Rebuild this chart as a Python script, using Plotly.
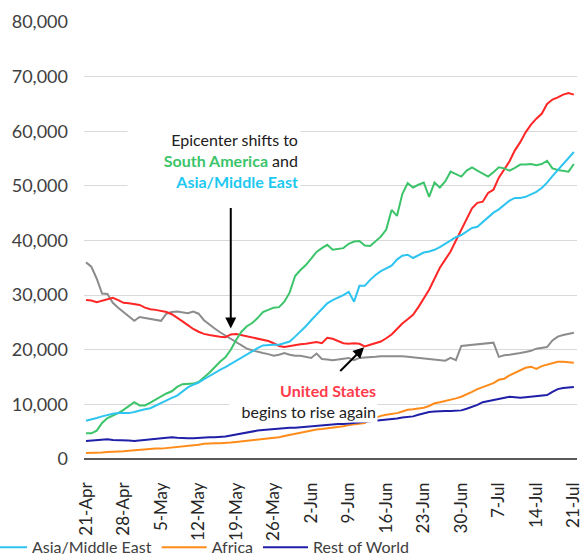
import pandas as pd
import plotly.graph_objects as go

# Daily values, 21-Apr to 21-Jul
dates = pd.date_range("2020-04-21", "2020-07-21", freq="D")

europe = [36000, 35200, 33000, 30300, 30200, 28600, 27700, 26900, 26100, 25300,
          26000, 25800, 25600, 25400, 25300, 26600, 26900, 27000, 26800, 26700,
          27000, 26600, 25400, 24600, 23900, 23200, 22600, 21900, 21300, 20800,
          20200, 19900, 19600, 19400, 19200, 18900, 19100, 19400, 19100, 18900,
          18900, 18700, 18500, 19300, 18300, 18200, 18100, 18200, 18300, 18500,
          18100, 18500, 18600, 18600, 18700, 18800, 18800, 18900, 18900, 18800,
          18700, 18600, 18500, 18500, 18400, 18300, 18200, 18000, 18500, 18100,
          20700, 20800, 20900, 21000, 21200, 21300, 21300, 18700, 19000, 19100,
          19200, 19400, 19600, 19800, 20200, 20300, 20500, 21700, 22400, 22700,
          22900, 23100]

united_states = [29100, 29000, 28700, 29000, 29300, 29500, 29100, 28600, 28500, 28300,
                 28200, 27700, 27400, 27300, 27100, 26900, 26500, 25900, 25200, 24500,
                 23800, 23300, 22900, 22700, 22500, 22400, 22300, 22800, 22900, 22700,
                 22400, 22200, 22100, 21900, 21600, 21200, 20700, 20500, 20700, 20900,
                 21000, 21100, 21300, 21400, 21200, 22200, 22000, 21600, 21200, 21100,
                 21200, 21100, 20600, 20900, 21200, 21500, 22100, 22800, 23800, 24800,
                 25600, 26400, 27800, 29500, 31000, 33000, 35000, 36500, 38000, 40000,
                 42000, 44200, 45900, 46900, 47100, 48700, 49300, 51500, 52900, 54500,
                 56500, 58000, 59800, 61200, 62300, 63200, 65000, 65800, 66200, 66700,
                 67000, 66700]

south_america = [4700, 4700, 5200, 6600, 7500, 7900, 8400, 9000, 9700, 10400,
                 9800, 9800, 10300, 10900, 11400, 12000, 12400, 13200, 13700, 13700,
                 13800, 14100, 14900, 15800, 16800, 17800, 18600, 20000, 21800, 23300,
                 24300, 24900, 25800, 26900, 27300, 27700, 27800, 28800, 30500, 33500,
                 34600, 35500, 36700, 37900, 38600, 39200, 38300, 38400, 38600, 39400,
                 39800, 39900, 39100, 39000, 39800, 40700, 42000, 45600, 44500, 48500,
                 50500, 49700, 50200, 50600, 48000, 50600, 49700, 50800, 52600, 52200,
                 51700, 52800, 53400, 52800, 52200, 51700, 52500, 53400, 53200, 52800,
                 53300, 53900, 53900, 54000, 53800, 54000, 54600, 53200, 52900, 52800,
                 52600, 54000]

asia_middle_east = [7000, 7200, 7500, 7800, 8100, 8300, 8400, 8400, 8400, 8600,
                    8900, 9100, 9300, 9800, 10300, 10700, 11200, 11600, 12300, 13100,
                    13600, 14000, 14600, 15200, 15700, 16300, 16800, 17400, 17900, 18500,
                    19200, 19800, 20300, 20800, 20900, 20900, 20900, 21200, 21500, 22400,
                    23300, 24300, 25400, 26500, 27600, 28500, 29100, 29500, 30000, 30600,
                    28800, 31700, 31700, 32800, 33700, 34400, 34900, 35400, 36500, 37200,
                    37400, 36800, 37300, 37800, 38000, 38300, 38800, 39400, 40100, 40600,
                    41000, 41700, 42300, 42500, 43400, 44300, 45100, 45700, 46500, 47300,
                    47800, 47800, 48000, 48400, 48900, 49600, 50600, 51800, 52900, 53900,
                    55000, 56200]

africa = [1100, 1100, 1200, 1200, 1300, 1300, 1400, 1400, 1500, 1600,
          1700, 1800, 1800, 1900, 1900, 2000, 2100, 2200, 2300, 2300,
          2400, 2600, 2800, 2900, 2900, 2900, 2900, 3000, 3100, 3200,
          3300, 3400, 3500, 3600, 3800, 3900, 4000, 4200, 4400, 4600,
          4900, 5100, 5300, 5400, 5500, 5600, 5800, 5900, 6000, 6200,
          6300, 6500, 6600, 7200, 7600, 7900, 8100, 8200, 8400, 8700,
          9000, 9100, 9200, 9400, 9700, 10200, 10400, 10600, 10800, 11100,
          11400, 11800, 12300, 12800, 13200, 13500, 13900, 14500, 14700, 15300,
          15800, 16200, 16700, 16900, 16500, 17000, 17300, 17500, 17800, 17800,
          17700, 17600]

rest_of_world = [3300, 3400, 3500, 3600, 3600, 3500, 3500, 3500, 3400, 3300,
                 3400, 3600, 3700, 3800, 3900, 4000, 4000, 3900, 3800, 3800,
                 3800, 3900, 4000, 4000, 4000, 4000, 4100, 4300, 4500, 4600,
                 4800, 5000, 5200, 5300, 5400, 5500, 5600, 5600, 5700, 5700,
                 5800, 5900, 6000, 6100, 6200, 6200, 6300, 6400, 6400, 6500,
                 6500, 6600, 6700, 6800, 6900, 7000, 7100, 7300, 7400, 7600,
                 7700, 7800, 8100, 8400, 8600, 8700, 8800, 8800, 8800, 8800,
                 8900, 9200, 9500, 9900, 10400, 10600, 10900, 11000, 11200, 11400,
                 11300, 11200, 11300, 11400, 11600, 11700, 11700, 12300, 12800, 13000,
                 13100, 13200]

FONT = "Lato, 'Open Sans', sans-serif"
INK = "#404040"

series = [
    ("Europe", europe, "#8c8c8c", False),
    ("United States", united_states, "#ff2626", False),
    ("South America", south_america, "#3cc46a", False),
    ("Asia/Middle East", asia_middle_east, "#2ec4f0", True),
    ("Africa", africa, "#ff8c1a", True),
    ("Rest of World", rest_of_world, "#1f1fa8", True),
]

fig = go.Figure()
for name, vals, color, show in series:
    fig.add_trace(go.Scatter(x=dates, y=vals, mode="lines", name=name,
                             line=dict(color=color, width=2), showlegend=show))

# Callouts (white boxes sit over the lines, like the original text boxes)
fig.add_annotation(
    xref="paper", yref="paper", x=0.44, y=0.683, xanchor="right", yanchor="middle",
    text="Epicenter shifts to<br>"
         "<span style='color:#3cc46a'><b>South America</b></span> and<br>"
         "<span style='color:#1ec8f0'><b>Asia/Middle East</b></span>",
    align="right", showarrow=False, bgcolor="white", width=168, borderpad=2,
    font=dict(family=FONT, size=16, color="#202020"))
fig.add_annotation(
    xref="paper", yref="paper", x=0.597, y=0.133, xanchor="right", yanchor="middle",
    text="<span style='color:#ff3b4b'><b>United States</b></span><br>begins to rise again",
    align="right", showarrow=False, bgcolor="white", width=145, borderpad=1,
    font=dict(family=FONT, size=16, color="#202020"))

# Arrows pointing at the red line
fig.add_annotation(x=dates[27], y=united_states[27], ax=0, ay=-128, text="",
                   showarrow=True, arrowhead=2, arrowsize=1.1, arrowwidth=2,
                   arrowcolor="black", standoff=6)
fig.add_annotation(x=dates[52], y=united_states[52], ax=-26, ay=26, text="",
                   showarrow=True, arrowhead=2, arrowsize=1.1, arrowwidth=2,
                   arrowcolor="black", standoff=1)

fig.update_layout(
    width=583, height=556,
    margin=dict(l=84, r=6, t=22, b=97, autoexpand=False),
    paper_bgcolor="white", plot_bgcolor="white",
    font=dict(family=FONT, size=17, color=INK),
    xaxis=dict(type="date", range=["2020-04-20 15:00", "2020-07-21 14:00"],
               tickmode="array", tickvals=dates[::7], tickformat="%-d-%b",
               tickangle=-90, showgrid=False, showline=False, zeroline=False,
               ticks="", ticklabelstandoff=19, automargin=False,
               ticklabeloverflow="allow",
               tickfont=dict(family=FONT, size=17, color="#262626")),
    yaxis=dict(range=[0, 80000], dtick=10000, tickformat=",d",
               showgrid=True, gridcolor="#d9d9d9", gridwidth=1,
               zeroline=True, zerolinecolor="#595959", zerolinewidth=2,
               showline=False, ticks="", ticklabelstandoff=15, automargin=False,
               tickfont=dict(family=FONT, size=18, color=INK)),
    # legend sits partly off the left and bottom edges, as in the cropped original
    legend=dict(orientation="h", xref="paper", yref="paper",
                x=-0.217, y=-0.163, xanchor="left", yanchor="top",
                itemwidth=45,
                font=dict(family=FONT, size=16, color=INK),
                bgcolor="rgba(0,0,0,0)"),
    showlegend=True,
)

# page body margin would shift the figure; drop it so the chart fills the window
fig.write_html("out.html", config={"displayModeBar": False},
               post_script="document.body.style.margin='0';")
